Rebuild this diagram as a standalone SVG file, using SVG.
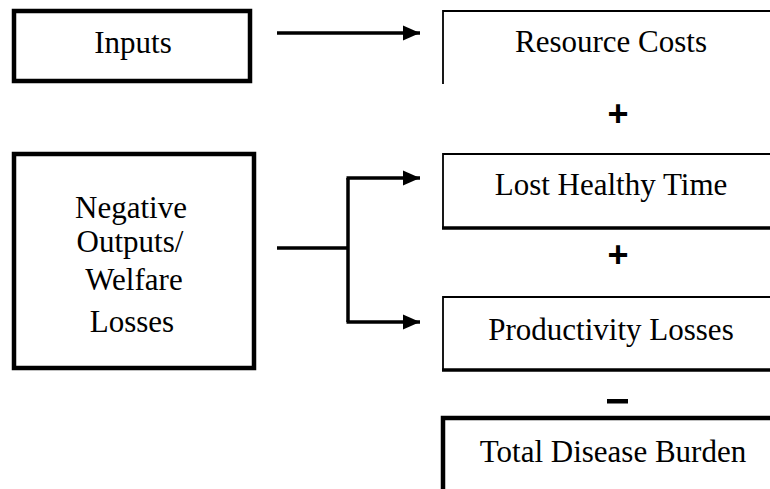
<svg xmlns="http://www.w3.org/2000/svg" width="770" height="489" viewBox="0 0 770 489">
<defs>
<style>
.t{font-family:"Liberation Serif","Times New Roman",serif;font-size:31px;fill:#000;text-anchor:middle}
.op{font-family:"Liberation Sans",Arial,sans-serif;font-size:36px;font-weight:bold;fill:#000;text-anchor:middle}
.thin{fill:none;stroke:#000;stroke-width:1.8}
.thick{fill:none;stroke:#000;stroke-width:3.5}
.box{fill:#fff;stroke:#000;stroke-width:4.5}
.con{fill:none;stroke:#000;stroke-width:3.5}
</style>
<marker id="ah" markerWidth="6" markerHeight="6" refX="5" refY="3" orient="auto" markerUnits="strokeWidth">
<path d="M0,0.8 L5,3 L0,5.2 Z" fill="#000"/>
</marker>
</defs>
<rect width="770" height="489" fill="#fff"/>

<g id="inputs">
<rect class="box" x="14" y="11" width="236" height="70"/>
<text class="t" x="133" y="53">Inputs</text>
</g>

<g id="negative-outputs">
<rect class="box" x="14" y="154" width="240" height="214"/>
<text class="t" x="131" y="218">Negative</text>
<text class="t" x="130" y="252">Outputs/</text>
<text class="t" x="134" y="290">Welfare</text>
<text class="t" x="132" y="332">Losses</text>
</g>

<g id="resource-costs">
<path class="thin" d="M443,84 V11 H775"/>
<text class="t" x="611" y="52">Resource Costs</text>
</g>

<g id="lost-healthy-time">
<path class="thin" d="M443,228 V154 H775"/>
<path class="thick" d="M442,228 H775"/>
<text class="t" x="611" y="195">Lost Healthy Time</text>
</g>

<g id="productivity-losses">
<path class="thin" d="M443,370 V297 H775"/>
<path class="thick" d="M442,370 H775"/>
<text class="t" x="611" y="340">Productivity Losses</text>
</g>

<g id="total-disease-burden">
<path class="box" style="fill:none" d="M443,495 V418 H775"/>
<text class="t" x="613" y="462">Total Disease Burden</text>
</g>

<g id="operators">
<text class="op" x="618" y="126">+</text>
<text class="op" x="618" y="267">+</text>
<rect x="607" y="399" width="21" height="4.5" fill="#000"/>
</g>

<g id="connectors">
<path class="con" d="M277,33 H420" marker-end="url(#ah)"/>
<path class="con" d="M277,248 H348"/>
<path class="con" d="M348,178 V322"/>
<path class="con" d="M346.5,178 H420" marker-end="url(#ah)"/>
<path class="con" d="M346.5,322 H420" marker-end="url(#ah)"/>
</g>
</svg>
